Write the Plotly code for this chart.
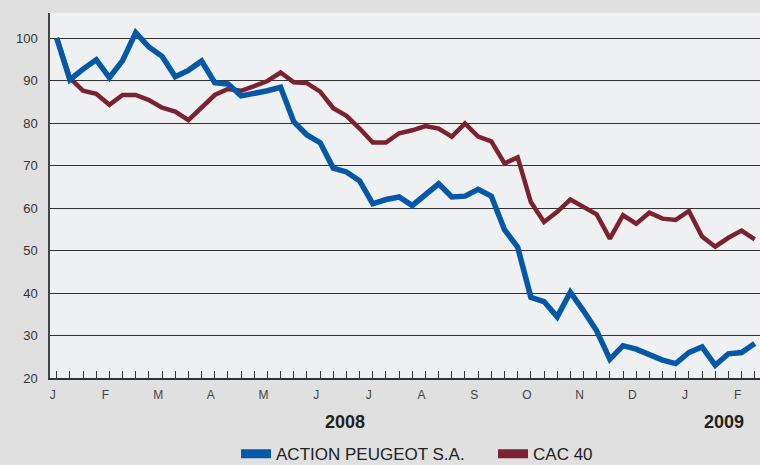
import plotly.graph_objects as go

# ---- data (weekly index, base 100) ----
peugeot = [100, 90.2, 92.7, 94.9, 90.7, 94.7, 101.3, 97.9, 95.7, 90.9, 92.4, 94.6, 89.5, 89.2,
           86.4, 86.9, 87.6, 88.4, 80.3, 77.2, 75.4, 69.4, 68.5, 66.4, 61.0, 62.0, 62.6, 60.6,
           63.0, 65.7, 62.6, 62.8, 64.4, 62.8, 54.9, 50.8, 39.0, 38.0, 34.4, 40.2, 35.8, 31.1,
           24.4, 27.6, 26.8, 25.6, 24.2, 23.4, 26.0, 27.3, 23.0, 25.7, 26.0, 28.1]
cac40 = [100, 90.6, 87.6, 86.9, 84.3, 86.6, 86.6, 85.4, 83.6, 82.7, 80.7, 83.7, 86.6, 88.0,
         87.6, 88.7, 89.9, 91.9, 89.6, 89.4, 87.4, 83.5, 81.7, 78.7, 75.4, 75.4, 77.6, 78.3,
         79.3, 78.7, 76.8, 79.9, 76.8, 75.7, 70.5, 71.9, 61.4, 56.7, 59.1, 62.0, 60.2, 58.5,
         52.8, 58.3, 56.3, 58.9, 57.5, 57.2, 59.3, 53.3, 50.9, 53.0, 54.7, 52.6]
weeks = list(range(len(peugeot)))
month_labels = ["J", "F", "M", "A", "M", "J", "J", "A", "S", "O", "N", "D", "J", "F"]
year_labels = ["2008", "2009"]
series_names = ["ACTION PEUGEOT S.A.", "CAC 40"]
y_ticks = [20, 30, 40, 50, 60, 70, 80, 90, 100]

BLUE = "#0558a6"
RED = "#7a2230"
FONT = "Liberation Sans, Arial, Helvetica, sans-serif"

fig = go.Figure()
fig.add_trace(go.Scatter(x=weeks, y=cac40, mode="lines", showlegend=False,
                         line=dict(color=RED, width=4.5)))
fig.add_trace(go.Scatter(x=weeks, y=peugeot, mode="lines", showlegend=False,
                         line=dict(color=BLUE, width=5.5)))
# legend entries
fig.add_trace(go.Scatter(x=[None], y=[None], mode="lines", name=series_names[0],
                         line=dict(color=BLUE, width=9)))
fig.add_trace(go.Scatter(x=[None], y=[None], mode="lines", name=series_names[1],
                         line=dict(color=RED, width=9)))

month_pos = [4 * i - 0.3 for i in range(len(month_labels))]

fig.update_layout(
    width=760, height=465,
    margin=dict(l=50, r=0, t=13, b=87, autoexpand=False),
    paper_bgcolor="#e0e0e0",
    plot_bgcolor="#eff0f2",
    font=dict(family=FONT, color="#333333", size=13),
    showlegend=True,
    legend=dict(orientation="h", x=0.262, xanchor="left", y=-0.209, yanchor="middle",
                bgcolor="rgba(0,0,0,0)", font=dict(size=17, color="#222222", family=FONT),
                entrywidth=212, entrywidthmode="pixels", itemwidth=30),
    xaxis=dict(range=[-0.51, 53.4], showgrid=False, zeroline=False, automargin=False,
               showline=True, linecolor="#333333", linewidth=1.5,
               tickmode="array", tickvals=month_pos, ticktext=month_labels,
               ticks="", ticklabelstandoff=5,
               tickfont=dict(size=12, color="#444444"),
               minor=dict(tickmode="array", tickvals=weeks, ticks="inside",
                          ticklen=7, tickcolor="#333333", tickwidth=1, showgrid=False)),
    yaxis=dict(range=[20, 105.9], tickmode="array", tickvals=y_ticks, automargin=False,
               showgrid=True, gridcolor="#333333", gridwidth=1, zeroline=False,
               showline=True, linecolor="#444444", linewidth=1.5,
               ticks="", ticklabelstandoff=8,
               tickfont=dict(size=13, color="#333333")),
)

fig.add_annotation(x=21.9, y=-0.1205, xref="x", yref="paper", text=year_labels[0],
                   showarrow=False, font=dict(size=18, color="#222222", family=FONT, weight="bold"),
                   xanchor="center", yanchor="middle")
fig.add_annotation(x=50.7, y=-0.1205, xref="x", yref="paper", text=year_labels[1],
                   showarrow=False, font=dict(size=18, color="#222222", family=FONT, weight="bold"),
                   xanchor="center", yanchor="middle")

fig.write_html("out.html", config={"displayModeBar": False},
               post_script="document.body.style.margin='0';document.body.style.overflow='hidden';")
